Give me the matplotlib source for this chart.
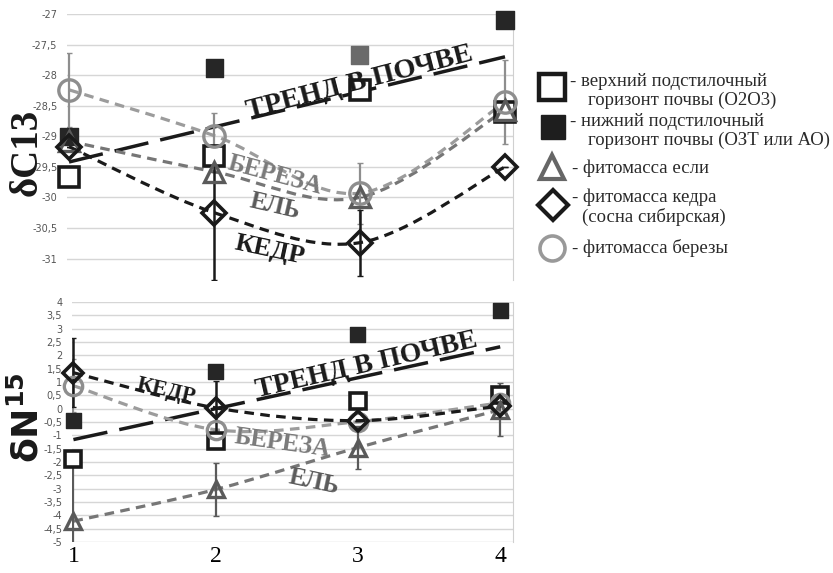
import numpy as np
import matplotlib
matplotlib.use("Agg")
import matplotlib.pyplot as plt
from matplotlib.path import Path
from matplotlib.patches import PathPatch
from matplotlib.ticker import MultipleLocator, FuncFormatter

# sampling sites
sites = [1, 2, 3, 4]

# delta C13
c13_upper = [-29.66, -29.32, -28.24, -28.60]     # верхний подстилочный горизонт (O2O3)
c13_lower = [-29.00, -27.88, -27.67, -27.10]     # нижний подстилочный горизонт
c13_spruce = [-29.08, -29.58, -30.00, -28.57]    # фитомасса ели
c13_cedar = [-29.17, -30.25, -30.74, -29.50]     # фитомасса кедра
c13_cedar_err = [0.0, 1.10, 0.54, 0.0]
c13_birch = [-28.24, -28.99, -29.93, -28.44]     # фитомасса березы
c13_birch_err = [0.60, 0.37, 0.50, 0.68]
c13_trend = [-29.42, -27.70]                     # тренд в почве, sites 1 -> 4

# delta N15
n15_upper = [-1.90, -1.23, 0.30, 0.52]
n15_lower = [-0.45, 1.38, 2.77, 3.70]
n15_spruce = [-4.22, -3.03, -1.46, -0.04]
n15_spruce_err = [2.2, 1.0, 0.8, 1.0]
n15_cedar = [1.35, 0.03, -0.45, 0.10]
n15_cedar_err = [1.3, 1.0, 0.0, 0.0]
n15_birch = [0.86, -0.79, -0.49, 0.22]
n15_birch_err = [1.0, 0.0, 0.0, 0.0]
n15_trend = [-1.16, 2.32]

BLACK = "#1a1a1a"
SPRUCE = "#5a5a5a"
BIRCH = "#8e8e8e"
SERIF = "Liberation Serif"


def smooth_path(xs, ys):
    # Catmull-Rom style bezier, like a spreadsheet "smoothed line"
    pts = np.column_stack([xs, ys]).astype(float)
    n = len(pts)
    verts = [pts[0]]
    codes = [Path.MOVETO]
    for i in range(n - 1):
        p0 = pts[max(i - 1, 0)]
        p1 = pts[i]
        p2 = pts[i + 1]
        p3 = pts[min(i + 2, n - 1)]
        verts += [p1 + (p2 - p0) / 6, p2 - (p3 - p1) / 6, p2]
        codes += [Path.CURVE4] * 3
    return Path(verts, codes)


def curve(ax, ys, color):
    ax.add_patch(PathPatch(smooth_path(sites, ys), fill=False, edgecolor=color,
                           lw=2.3, linestyle=(0, (3, 2)), zorder=3))


def comma(v, pos):
    return f"{v:g}".replace(".", ",")


def style_axes(ax, ylo, yhi):
    ax.set_ylim(ylo, yhi)
    ax.yaxis.set_major_locator(MultipleLocator(0.5))
    ax.yaxis.set_major_formatter(FuncFormatter(comma))
    ax.grid(axis="y", color="#d6d6d6", lw=1)
    ax.set_axisbelow(True)
    for s in ("top", "bottom", "left"):
        ax.spines[s].set_visible(False)
    ax.spines["right"].set_color("#d0d0d0")
    ax.tick_params(axis="y", length=0, labelsize=7, labelcolor="#555555", pad=7)
    ax.tick_params(axis="x", length=0)


def draw_panel(ax, upper, lower, spruce, cedar, birch, trend,
               spruce_err, cedar_err, birch_err, ms, lower_colors):
    ax.plot([sites[0], sites[-1]], trend, color=BLACK, lw=2.5,
            linestyle=(0, (10, 3.5)), zorder=2)
    curve(ax, spruce, "#767676")
    curve(ax, birch, "#9c9c9c")
    curve(ax, cedar, BLACK)

    ax.errorbar(sites, spruce, yerr=spruce_err, fmt="none", ecolor=SPRUCE,
                elinewidth=1.6, capsize=2.5, zorder=4)
    ax.errorbar(sites, birch, yerr=birch_err, fmt="none", ecolor=BIRCH,
                elinewidth=1.6, capsize=2.5, zorder=4)
    ax.errorbar(sites, cedar, yerr=cedar_err, fmt="none", ecolor=BLACK,
                elinewidth=1.8, capsize=2.5, zorder=4)

    ax.scatter(sites, lower, marker="s", s=(ms * 0.9) ** 2, c=lower_colors,
               zorder=5, clip_on=False)
    ax.plot(sites, upper, "s", ms=ms, mfc="white", mec=BLACK, mew=2.6,
            zorder=5, clip_on=False)
    ax.plot(sites, spruce, "^", ms=ms, mfc="none", mec=SPRUCE, mew=2.4,
            zorder=6, clip_on=False)
    ax.plot(sites, birch, "o", ms=ms * 1.1, mfc="none", mec=BIRCH, mew=2.4,
            zorder=6, clip_on=False)
    ax.plot(sites, cedar, "D", ms=ms * 0.85, mfc="none", mec=BLACK, mew=2.6,
            zorder=7, clip_on=False)


def label(ax, x, y, s, rot, size, color):
    ax.text(x, y, s, rotation=rot, ha="center", va="center", family=SERIF,
            weight="bold", fontsize=size, color=color, zorder=8)


fig = plt.figure(figsize=(8.33, 5.73), dpi=100)
W, H = 833, 573

# top panel: delta C13
ax1 = fig.add_axes([67 / W, 1 - 280 / H, 446 / W, 266 / H])
style_axes(ax1, -31.35, -27.0)
ax1.set_xlim(0.986, 4.055)
ax1.set_xticks(sites)
ax1.set_xticklabels([])
draw_panel(ax1, c13_upper, c13_lower, c13_spruce, c13_cedar, c13_birch,
           c13_trend, 0, c13_cedar_err, c13_birch_err, ms=14,
           lower_colors=["#262626", "#262626", "#6a6a6a", "#262626"])

label(ax1, 3.0, -28.12, "ТРЕНД В ПОЧВЕ", 14.5, 20.5, BLACK)
label(ax1, 2.42, -29.63, "БЕРЕЗА", -15, 18, "#7a7a7a")
label(ax1, 2.42, -30.15, "ЕЛЬ", -13, 18, SPRUCE)
label(ax1, 2.38, -30.86, "КЕДР", -12, 19, BLACK)

# bottom panel: delta N15
ax2 = fig.add_axes([72 / W, 1 - 542 / H, 441 / W, 240 / H])
style_axes(ax2, -5.0, 4.0)
ax2.set_xlim(0.99, 4.09)
ax2.set_xticks(sites)
ax2.set_xticklabels([str(s) for s in sites], family=SERIF, fontsize=17)
ax2.tick_params(axis="x", pad=3)
draw_panel(ax2, n15_upper, n15_lower, n15_spruce, n15_cedar, n15_birch,
           n15_trend, n15_spruce_err, n15_cedar_err, n15_birch_err, ms=12,
           lower_colors=["#262626"] * 4)

label(ax2, 3.06, 1.62, "ТРЕНД В ПОЧВЕ", 13, 20, BLACK)
label(ax2, 1.65, 0.67, "КЕДР", -13, 16, BLACK)
label(ax2, 2.47, -1.31, "БЕРЕЗА", -8, 18, "#7a7a7a")
label(ax2, 2.69, -2.73, "ЕЛЬ", -12, 18, SPRUCE)

# axis titles
fig.text(27 / W, 1 - 152 / H, "δC13", rotation=90, ha="center", va="center",
         family=SERIF, weight="bold", fontsize=28, color=BLACK)
fig.text(27 / W, 1 - 418 / H, "δN$^{\\mathbf{15}}$", rotation=90, ha="center",
         va="center", family="DejaVu Sans", weight="bold", fontsize=26,
         color=BLACK)

# legend, drawn on an overlay in pixel units
lax = fig.add_axes([0, 0, 1, 1])
lax.set_xlim(0, W)
lax.set_ylim(H, 0)
lax.axis("off")
lax.plot(552, 87, "s", ms=19, mfc="white", mec=BLACK, mew=3.2)
lax.plot(553, 127, "s", ms=17, color="#1e1e1e")
lax.plot(552, 167, "^", ms=17, mfc="none", mec="#666666", mew=3)
lax.plot(553, 205, "D", ms=15, mfc="none", mec=BLACK, mew=3)
lax.plot(552, 248, "o", ms=18, mfc="none", mec="#999999", mew=2.6)

legend_lines = [
    (570, 82, "- верхний подстилочный"),
    (588, 100, "горизонт почвы (О2О3)"),
    (570, 122, "- нижний подстилочный"),
    (588, 140, "горизонт почвы (ОЗТ или АО)"),
    (572, 168, "- фитомасса если"),
    (572, 197, "- фитомасса кедра"),
    (582, 217, "(сосна сибирская)"),
    (572, 248, "- фитомасса березы"),
]
for x, y, s in legend_lines:
    lax.text(x, y, s, ha="left", va="center", family=SERIF, fontsize=13.5,
             color="#2a2a2a")

fig.savefig("out.png", dpi=100)
